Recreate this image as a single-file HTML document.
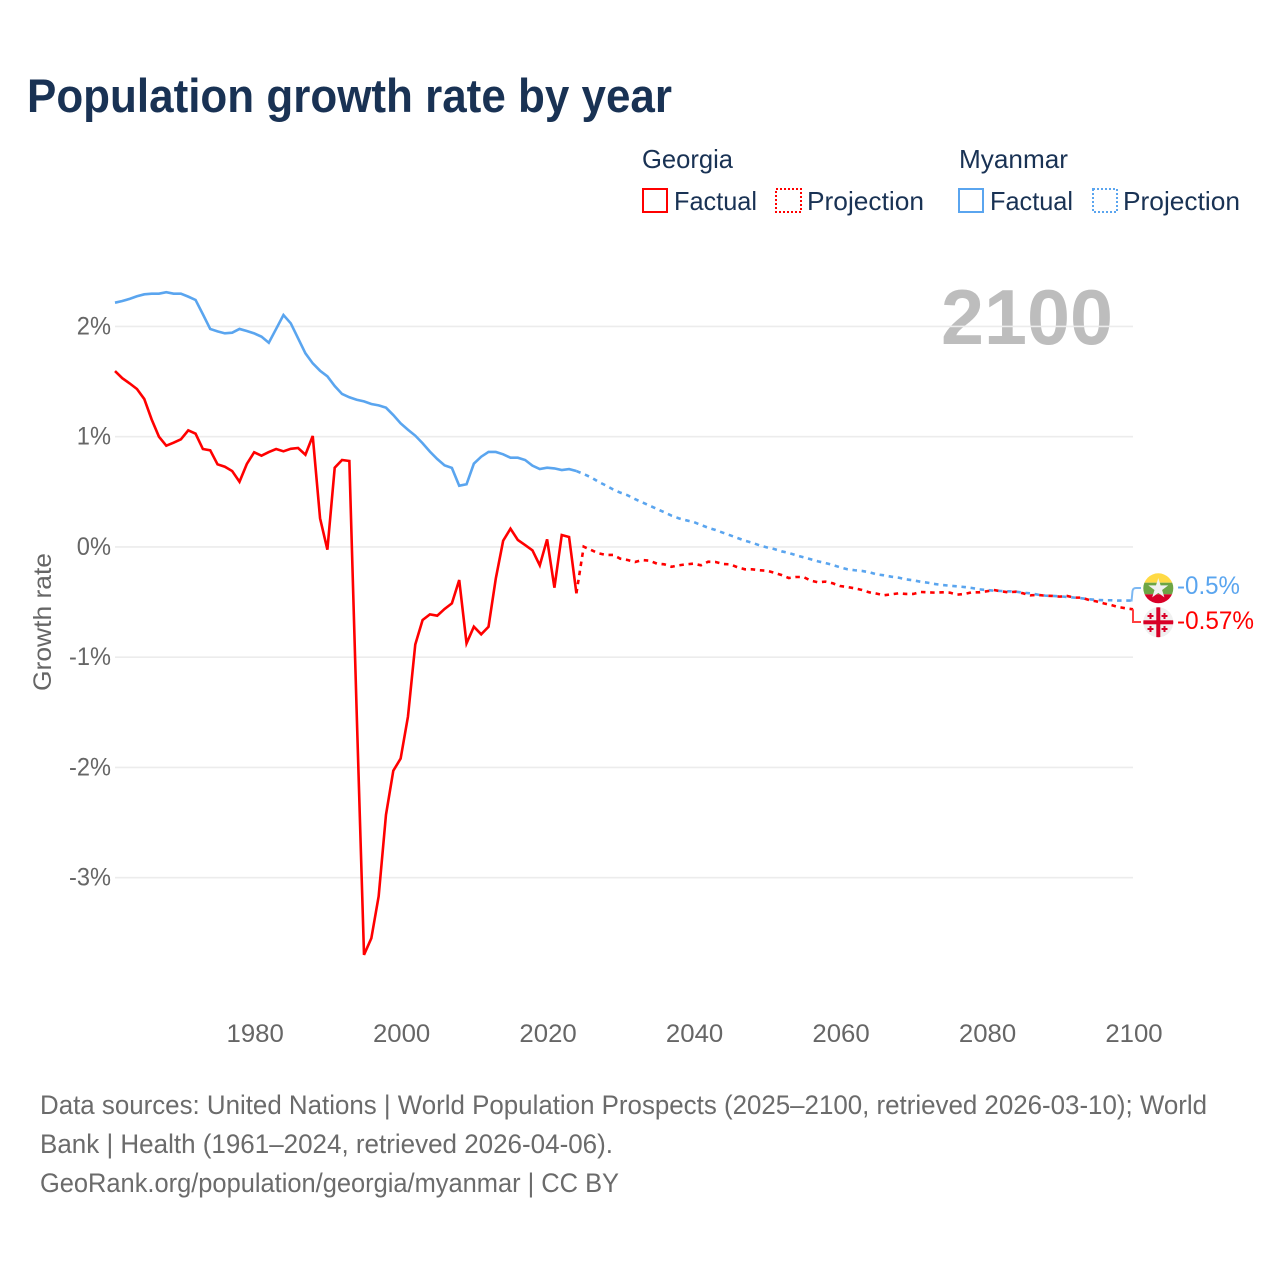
<!DOCTYPE html>
<html lang="en">
<head>
<meta charset="utf-8">
<title>Population growth rate by year</title>
<style>
html,body{margin:0;padding:0;background:#fff;width:1280px;height:1280px;overflow:hidden}
svg{display:block}
text{font-family:"Liberation Sans",sans-serif}
</style>
</head>
<body>
<svg id="chart" xmlns="http://www.w3.org/2000/svg" width="1280" height="1280" viewBox="0 0 1280 1280">
  <rect x="0" y="0" width="1280" height="1280" fill="#fff"/>
  <defs>
    <clipPath id="clip-mm"><circle cx="1158.3" cy="588.3" r="15"/></clipPath>
    <clipPath id="clip-ge"><circle cx="1158.3" cy="622.3" r="15"/></clipPath>
  </defs>

  <text x="27" y="112" font-size="47" font-weight="700" fill="#193254" textLength="645" lengthAdjust="spacingAndGlyphs">Population growth rate by year</text>

  <g font-size="26" fill="#193254">
    <text x="642" y="168" textLength="91" lengthAdjust="spacingAndGlyphs">Georgia</text>
    <rect x="643" y="189" width="24" height="23" fill="#fff" stroke="#ff0000" stroke-width="2"/>
    <text x="674" y="210" textLength="83" lengthAdjust="spacingAndGlyphs">Factual</text>
    <rect x="776" y="189" width="25" height="23" fill="#fff" stroke="#ff0000" stroke-width="2" stroke-dasharray="2 2"/>
    <text x="807" y="210" textLength="117" lengthAdjust="spacingAndGlyphs">Projection</text>
    <text x="959" y="168" textLength="109" lengthAdjust="spacingAndGlyphs">Myanmar</text>
    <rect x="959" y="189" width="24" height="23" fill="#fff" stroke="#5aa5ef" stroke-width="2"/>
    <text x="990" y="210" textLength="83" lengthAdjust="spacingAndGlyphs">Factual</text>
    <rect x="1093" y="189" width="24" height="23" fill="#fff" stroke="#5aa5ef" stroke-width="2" stroke-dasharray="2 2"/>
    <text x="1123" y="210" textLength="117" lengthAdjust="spacingAndGlyphs">Projection</text>
  </g>

  <text x="941" y="344" font-size="78" font-weight="700" fill="#bdbdbd" textLength="172" lengthAdjust="spacingAndGlyphs">2100</text>

  <g id="grid"></g>
  <g id="y-axis"></g>
  <g id="x-axis"></g>
  <g id="series"></g>

  <text transform="translate(51,622) rotate(-90)" text-anchor="middle" font-size="25" fill="#666" textLength="138" lengthAdjust="spacingAndGlyphs">Growth rate</text>

  <g clip-path="url(#clip-mm)">
    <rect x="1143" y="573" width="31" height="9.7" fill="#ffda44"/>
    <rect x="1143" y="582.7" width="31" height="11.6" fill="#6da544"/>
    <rect x="1143" y="594.3" width="31" height="10" fill="#d80027"/>
    <polygon points="1158.3,578 1160.6,585.4 1168.3,585.4 1162.1,590 1164.4,597.4 1158.3,592.9 1152.2,597.4 1154.5,590 1148.3,585.4 1156,585.4" fill="#f0f0f0"/>
  </g>
  <g clip-path="url(#clip-ge)">
    <rect x="1143" y="607" width="31" height="31" fill="#f0f0f0"/>
    <rect x="1156.3" y="607" width="4" height="31" fill="#d80027"/>
    <rect x="1143" y="620.3" width="31" height="4" fill="#d80027"/>
    <path d="M1149.5 613h2v2h2v2h-2v2h-2v-2h-2v-2h2zM1163.5 613h2v2h2v2h-2v2h-2v-2h-2v-2h2zM1149.5 626h2v2h2v2h-2v2h-2v-2h-2v-2h2zM1163.5 626h2v2h2v2h-2v2h-2v-2h-2v-2h2z" fill="#d80027"/>
  </g>

  <g font-size="27" fill="#6b6b6b">
    <text x="40" y="1114" textLength="1167" lengthAdjust="spacingAndGlyphs">Data sources: United Nations | World Population Prospects (2025–2100, retrieved 2026-03-10); World</text>
    <text x="40" y="1153" textLength="573" lengthAdjust="spacingAndGlyphs">Bank | Health (1961–2024, retrieved 2026-04-06).</text>
    <text x="40" y="1192" textLength="579" lengthAdjust="spacingAndGlyphs">GeoRank.org/population/georgia/myanmar | CC BY</text>
  </g>
</svg>

<script>
const firstYear = 1961;
const lastYear = 2100;
const lastFactualYear = 2024;
const xTickYears = [1980, 2000, 2020, 2040, 2060, 2080, 2100];
const yTickValues = [2, 1, 0, -1, -2, -3];
const georgiaLabel = "-0.57%";
const myanmarLabel = "-0.5%";

const georgiaRates = [
1.595,1.53,1.483,1.432,1.341,1.157,1.0,0.918,0.945,0.976,
1.057,1.027,0.888,0.876,0.749,0.727,0.688,0.591,0.752,0.858,
0.827,0.86,0.888,0.867,0.89,0.897,0.836,1.006,0.26,-0.025,
0.718,0.788,0.779,-1.5,-3.7,-3.55,-3.17,-2.43,-2.03,-1.92,
-1.54,-0.885,-0.663,-0.612,-0.624,-0.563,-0.512,-0.3,-0.875,-0.724,
-0.793,-0.724,-0.285,0.056,0.165,0.063,0.017,-0.031,-0.167,0.069,
-0.37,0.108,0.09,-0.421,
0.002,-0.028,-0.058,-0.073,-0.073,-0.107,-0.119,-0.137,-0.119,-0.125,
-0.152,-0.158,-0.18,-0.167,-0.158,-0.152,-0.167,-0.134,-0.137,-0.155,
-0.158,-0.185,-0.203,-0.203,-0.212,-0.216,-0.234,-0.255,-0.282,-0.273,
-0.273,-0.306,-0.321,-0.315,-0.33,-0.355,-0.364,-0.376,-0.391,-0.412,
-0.424,-0.439,-0.43,-0.421,-0.427,-0.427,-0.409,-0.412,-0.415,-0.412,
-0.415,-0.433,-0.427,-0.412,-0.412,-0.403,-0.391,-0.403,-0.412,-0.406,
-0.421,-0.439,-0.436,-0.442,-0.445,-0.451,-0.445,-0.46,-0.46,-0.482,
-0.494,-0.512,-0.527,-0.545,-0.557,-0.566
];

const myanmarRates = [
2.215,2.23,2.25,2.273,2.291,2.297,2.297,2.31,2.297,2.297,
2.27,2.24,2.11,1.977,1.955,1.937,1.943,1.977,1.958,1.937,
1.907,1.852,1.977,2.103,2.028,1.892,1.756,1.665,1.598,1.547,
1.459,1.387,1.357,1.335,1.32,1.296,1.284,1.263,1.196,1.121,
1.063,1.009,0.94,0.864,0.797,0.74,0.716,0.555,0.568,0.755,
0.818,0.861,0.861,0.84,0.809,0.809,0.788,0.737,0.706,0.718,
0.712,0.697,0.706,0.688,
0.661,0.631,0.591,0.558,0.522,0.492,0.468,0.434,0.404,0.374,
0.344,0.314,0.283,0.259,0.241,0.226,0.199,0.174,0.153,0.129,
0.105,0.081,0.056,0.038,0.014,-0.004,-0.019,-0.04,-0.055,-0.076,
-0.094,-0.112,-0.131,-0.146,-0.164,-0.185,-0.203,-0.212,-0.218,-0.23,
-0.249,-0.258,-0.27,-0.279,-0.294,-0.303,-0.316,-0.325,-0.337,-0.346,
-0.352,-0.358,-0.364,-0.373,-0.385,-0.391,-0.397,-0.4,-0.403,-0.406,
-0.415,-0.421,-0.433,-0.442,-0.445,-0.448,-0.454,-0.46,-0.466,-0.475,
-0.481,-0.484,-0.484,-0.487,-0.487,-0.487
];

const SVG_NS = "http://www.w3.org/2000/svg";
const plotLeft = 115, plotRight = 1133;
const zeroY = 546.9, pxPerPoint = 110.25;
function xScale(year) {
  return plotLeft + (year - firstYear) * (plotRight - plotLeft) / (lastYear - firstYear);
}
function yScale(rate) {
  return zeroY - rate * pxPerPoint;
}
function make(tag, parent) {
  const el = document.createElementNS(SVG_NS, tag);
  parent.appendChild(el);
  return el;
}
function fit(textEl, factor) {
  const w = textEl.getComputedTextLength();
  textEl.setAttribute("textLength", (w * factor).toFixed(1));
  textEl.setAttribute("lengthAdjust", "spacingAndGlyphs");
}
function linePath(values, from, to) {
  let d = "";
  for (let yr = from; yr <= to; yr++) {
    const v = values[yr - firstYear];
    d += (d ? "L" : "M") + xScale(yr).toFixed(2) + " " + yScale(v).toFixed(2);
  }
  return d;
}

const gridG = document.getElementById("grid");
const yAxisG = document.getElementById("y-axis");
const xAxisG = document.getElementById("x-axis");
const seriesG = document.getElementById("series");

yTickValues.forEach(function (v) {
  const ln = make("line", gridG);
  
  
  ln.setAttribute("x1", plotLeft);
  ln.setAttribute("x2", plotRight);
  ln.setAttribute("y1", yScale(v));
  ln.setAttribute("y2", yScale(v));
  ln.setAttribute("stroke", "#ececec");
  ln.setAttribute("stroke-width", "1.6");
  const t = make("text", yAxisG);
  
  
  t.setAttribute("x", 111);
  t.setAttribute("y", yScale(v) + 8);
  t.setAttribute("text-anchor", "end");
  t.setAttribute("font-size", "25");
  t.setAttribute("fill", "#666");
  t.textContent = v + "%";
  fit(t, 0.945);
});

xTickYears.forEach(function (yr) {
  const t = make("text", xAxisG);
  
  
  t.setAttribute("x", xScale(yr) + 1);
  t.setAttribute("y", 1042);
  t.setAttribute("text-anchor", "middle");
  t.setAttribute("font-size", "25");
  t.setAttribute("fill", "#666");
  t.textContent = String(yr);
  fit(t, 1.03);
});

const projMyanmar = make("path", seriesG);


projMyanmar.setAttribute("d", linePath(myanmarRates, lastFactualYear, lastYear));
projMyanmar.setAttribute("fill", "none");
projMyanmar.setAttribute("stroke", "#5aa5ef");
projMyanmar.setAttribute("stroke-width", "2.6");
projMyanmar.setAttribute("stroke-dasharray", "4.5 4.7");

const projGeorgia = make("path", seriesG);


projGeorgia.setAttribute("d", linePath(georgiaRates, lastFactualYear, lastYear));
projGeorgia.setAttribute("fill", "none");
projGeorgia.setAttribute("stroke", "#ff0000");
projGeorgia.setAttribute("stroke-width", "2.6");
projGeorgia.setAttribute("stroke-dasharray", "4.5 4.7");

const factMyanmar = make("path", seriesG);


factMyanmar.setAttribute("d", linePath(myanmarRates, firstYear, lastFactualYear));
factMyanmar.setAttribute("fill", "none");
factMyanmar.setAttribute("stroke", "#5aa5ef");
factMyanmar.setAttribute("stroke-width", "2.6");
factMyanmar.setAttribute("stroke-linejoin", "miter");

const factGeorgia = make("path", seriesG);


factGeorgia.setAttribute("d", linePath(georgiaRates, firstYear, lastFactualYear));
factGeorgia.setAttribute("fill", "none");
factGeorgia.setAttribute("stroke", "#ff0000");
factGeorgia.setAttribute("stroke-width", "2.6");
factGeorgia.setAttribute("stroke-linejoin", "miter");

const leaderMyanmar = make("path", seriesG);


leaderMyanmar.setAttribute("d", "M" + (plotRight - 1.5) + " " + (yScale(myanmarRates[lastYear - firstYear]) + 1) + "L" + (plotRight - 0.5) + " 591Q" + (plotRight) + " 588 " + (plotRight + 3) + " 588H1141");
leaderMyanmar.setAttribute("fill", "none");
leaderMyanmar.setAttribute("stroke", "#7db8f2");
leaderMyanmar.setAttribute("stroke-width", "2");

const leaderGeorgia = make("path", seriesG);


leaderGeorgia.setAttribute("d", "M" + plotRight + " " + yScale(georgiaRates[lastYear - firstYear]) + "V622H1141");
leaderGeorgia.setAttribute("fill", "none");
leaderGeorgia.setAttribute("stroke", "#ff4040");
leaderGeorgia.setAttribute("stroke-width", "2");

const labelMyanmar = make("text", seriesG);


labelMyanmar.setAttribute("x", 1177);
labelMyanmar.setAttribute("y", 594);
labelMyanmar.setAttribute("font-size", "25");
labelMyanmar.setAttribute("fill", "#5aa5ef");
labelMyanmar.setAttribute("textLength", "63");
labelMyanmar.setAttribute("lengthAdjust", "spacingAndGlyphs");
labelMyanmar.textContent = myanmarLabel;

const labelGeorgia = make("text", seriesG);


labelGeorgia.setAttribute("x", 1177);
labelGeorgia.setAttribute("y", 629);
labelGeorgia.setAttribute("font-size", "25");
labelGeorgia.setAttribute("fill", "#ff0000");
labelGeorgia.setAttribute("textLength", "77");
labelGeorgia.setAttribute("lengthAdjust", "spacingAndGlyphs");
labelGeorgia.textContent = georgiaLabel;
</script>
</body>
</html>
